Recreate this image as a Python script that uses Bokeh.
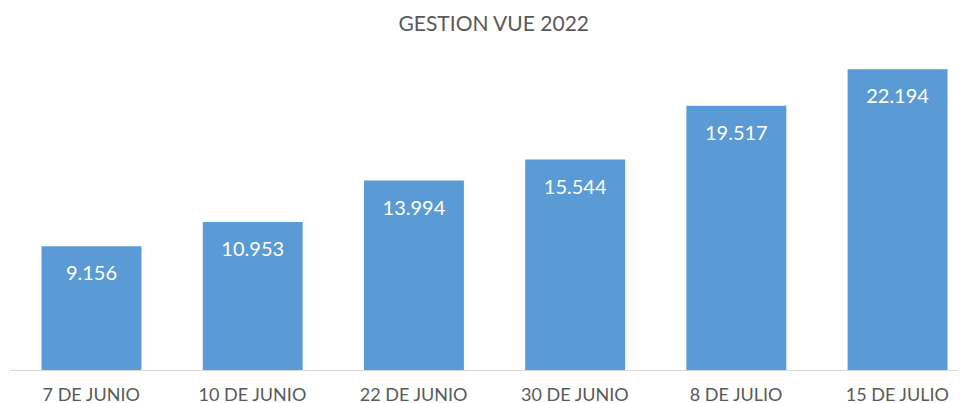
from bokeh.plotting import figure
from bokeh.models import ColumnDataSource, Range1d, FixedTicker
from bokeh.core.properties import value
from bokeh.embed import file_html
from bokeh.resources import INLINE

categories = ["7 DE JUNIO", "10 DE JUNIO", "22 DE JUNIO", "30 DE JUNIO", "8 DE JULIO", "15 DE JULIO"]
values = [9156, 10953, 13994, 15544, 19517, 22194]
title_text = "GESTION VUE 2022"

xs = list(range(len(categories)))
labels = [f"{v:,}".replace(",", ".") for v in values]
src = ColumnDataSource(dict(x=xs, top=values, label=labels))

FONT = "Lato"
GRAY = "#595959"

p = figure(width=958, height=402, output_backend="svg", toolbar_location=None,
           x_range=Range1d(-0.5025, 5.378), y_range=Range1d(0, 24320),
           title=title_text, min_border_left=10, min_border_right=0,
           min_border_top=40, min_border_bottom=0)
p.frame_width = 948
p.frame_height = 330

p.title.align = "left"
p.title.offset = 388
p.title.text_font = FONT
p.title.text_font_size = "21px"
p.title.text_font_style = "normal"
p.title.text_color = GRAY
p.title.standoff = 11

p.vbar(x="x", top="top", width=0.62, source=src, color="#5B9BD5", line_color=None)
p.text(x="x", y="top", text="label", source=src, text_align="center", text_baseline="middle",
       y_offset=27, text_color="white", text_font=value(FONT), text_font_size="20px")

p.xgrid.grid_line_color = None
p.ygrid.grid_line_color = None
p.yaxis.visible = False
p.outline_line_color = None

ax = p.xaxis[0]
ax.ticker = FixedTicker(ticks=xs)
ax.major_label_overrides = {i: c for i, c in zip(xs, categories)}
ax.axis_line_color = "#D9D9D9"
ax.axis_line_width = 1
ax.major_tick_line_color = None
ax.minor_tick_line_color = None
ax.major_label_text_font = FONT
ax.major_label_text_font_size = "18px"
ax.major_label_text_color = GRAY
ax.major_label_standoff = 6

open("out.html", "w").write(file_html(p, INLINE))
